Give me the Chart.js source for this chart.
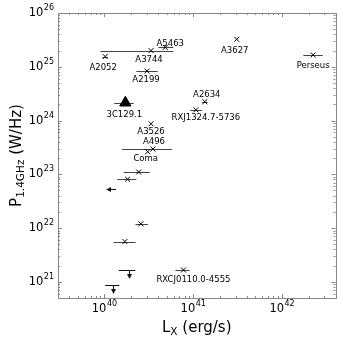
<!DOCTYPE html>
<html>
<head>
<meta charset="utf-8">
<script src="https://cdn.jsdelivr.net/npm/chart.js@4.4.0/dist/chart.umd.min.js"></script>
<style>
html,body{margin:0;padding:0;background:#fff}
#wrap{width:343px;height:343px}
</style>
</head>
<body>
<div id="wrap"><canvas id="c"></canvas></div>
<script>
// clusters drawn with x markers
var clusterNames = ['A2052','A3744','A5463','A2199','A3627','Perseus','A2634','RXJ1324.7-5736',
  'A3526','A496','Coma','','','','','RXCJ0110.0-4555'];
var clusterLx  = [1.02e40,3.35e40,4.84e40,3.02e40,3.09e41,2.24e42,1.35e41,1.07e41,
  3.35e40,3.52e40,3.07e40,2.43e40,1.82e40,2.57e40,1.70e40,7.76e40];
var clusterP   = [1.55e25,2.0e25,2.29e25,8.3e24,3.24e25,1.66e25,2.24e24,1.58e24,
  8.7e23,2.95e23,2.63e23,1.1e23,8.1e22,1.2e22,5.6e21,1.66e21];
var clusterLxLo = [0.95e40,9.0e39,4.05e40,2.29e40,null,1.74e42,1.25e41,9.25e40,
  null,1.58e40,null,1.65e40,1.39e40,2.24e40,1.26e40,6.3e40];
var clusterLxHi = [1.1e40,5.96e40,5.96e40,3.98e40,null,2.88e42,1.45e41,1.26e41,
  null,5.75e40,null,3.24e40,2.29e40,3.09e40,2.24e40,9.1e40];

// radio galaxy drawn as a triangle
var galaxyNames = ['3C129.1'];
var galaxyLx = [1.72e40];
var galaxyP = [2.14e24];
var galaxyLxLo = [1.29e40];
var galaxyLxHi = [2.14e40];

// upper limits
var limitLx = [1.35e40,1.9e40,1.24e40];
var limitP = [5.25e22,1.66e21,8.7e20];
var limitDir = ['left','down','down'];
var limitCapLo = [null,1.45e40,1.02e40];
var limitCapHi = [null,2.23e40,1.47e40];

var xTickExp = [40,41,42];
var yTickExp = [21,22,23,24,25,26];

// label offsets in pixels (dx, dy from the marker)
var clusterLabelDx = [-2,-2,5,-1,-2,0,2,10,0,1,-2,0,0,0,0,10];
var clusterLabelDy = [11,9,-4,9,11,11,-7,8,8,-7,7,0,0,0,0,10];
var galaxyLabelDx = [-1];
var galaxyLabelDy = [12];

var FONT = '"DejaVu Sans", sans-serif';

function pts(xs, ys){
  var out = [];
  for (var i = 0; i < xs.length; i++) out.push({x: xs[i], y: ys[i]});
  return out;
}

function drawSupLabel(ctx, base, exp, x, y, align){
  ctx.font = '11.5px ' + FONT;
  var wb = ctx.measureText(base).width;
  ctx.font = '8px ' + FONT;
  var we = ctx.measureText(exp).width;
  var w = wb + we + 0.5;
  var left = align === 'right' ? x - w : x - w / 2;
  ctx.textAlign = 'left';
  ctx.textBaseline = 'middle';
  ctx.font = '11.5px ' + FONT;
  ctx.fillText(base, left, y);
  ctx.font = '8px ' + FONT;
  ctx.fillText(exp, left + wb + 0.5, y - 5);
}

function arrowHead(ctx, x, y, dir){
  ctx.beginPath();
  if (dir === 'down'){
    ctx.moveTo(x, y); ctx.lineTo(x - 2.5, y - 5); ctx.lineTo(x + 2.5, y - 5);
  } else {
    ctx.moveTo(x, y); ctx.lineTo(x + 5, y - 2.5); ctx.lineTo(x + 5, y + 2.5);
  }
  ctx.closePath();
  ctx.fill();
}

var extras = {
  id: 'extras',
  beforeDatasetsDraw: function(chart){
    var ctx = chart.ctx, xs = chart.scales.x, ys = chart.scales.y;
    ctx.save();
    ctx.strokeStyle = '#444';
    ctx.lineWidth = 1;
    function bar(lo, hi, y){
      if (lo == null) return;
      var py = Math.round(ys.getPixelForValue(y)) + 0.5;
      ctx.beginPath();
      ctx.moveTo(xs.getPixelForValue(lo), py);
      ctx.lineTo(xs.getPixelForValue(hi), py);
      ctx.stroke();
    }
    for (var i = 0; i < clusterLx.length; i++) bar(clusterLxLo[i], clusterLxHi[i], clusterP[i]);
    for (var j = 0; j < galaxyLx.length; j++) bar(galaxyLxLo[j], galaxyLxHi[j], galaxyP[j]);
    ctx.restore();
  },
  afterDatasetsDraw: function(chart){
    var ctx = chart.ctx, xs = chart.scales.x, ys = chart.scales.y, a = chart.chartArea;
    ctx.save();
    // upper limits
    ctx.strokeStyle = '#111'; ctx.fillStyle = '#111'; ctx.lineWidth = 1;
    for (var k = 0; k < limitLx.length; k++){
      var px = xs.getPixelForValue(limitLx[k]), py = ys.getPixelForValue(limitP[k]);
      if (limitDir[k] === 'down'){
        ctx.beginPath();
        ctx.moveTo(xs.getPixelForValue(limitCapLo[k]), Math.round(py) + 0.5);
        ctx.lineTo(xs.getPixelForValue(limitCapHi[k]), Math.round(py) + 0.5);
        ctx.moveTo(Math.round(px) + 0.5, py);
        ctx.lineTo(Math.round(px) + 0.5, py + 5);
        ctx.stroke();
        arrowHead(ctx, Math.round(px) + 0.5, py + 9, 'down');
      } else {
        ctx.beginPath();
        ctx.moveTo(px, Math.round(py) + 0.5);
        ctx.lineTo(px - 6, Math.round(py) + 0.5);
        ctx.stroke();
        arrowHead(ctx, px - 10, Math.round(py) + 0.5, 'left');
      }
    }
    // point labels
    ctx.fillStyle = '#000';
    ctx.font = '8.5px ' + FONT;
    ctx.textAlign = 'center';
    ctx.textBaseline = 'middle';
    for (var i = 0; i < clusterNames.length; i++){
      if (!clusterNames[i]) continue;
      ctx.fillText(clusterNames[i], xs.getPixelForValue(clusterLx[i]) + clusterLabelDx[i],
        ys.getPixelForValue(clusterP[i]) + clusterLabelDy[i]);
    }
    for (var j = 0; j < galaxyNames.length; j++){
      ctx.fillText(galaxyNames[j], xs.getPixelForValue(galaxyLx[j]) + galaxyLabelDx[j],
        ys.getPixelForValue(galaxyP[j]) + galaxyLabelDy[j]);
    }
    // frame
    ctx.strokeStyle = '#888';
    ctx.lineWidth = 1;
    ctx.strokeRect(Math.round(a.left) + 0.5, Math.round(a.top) + 0.5,
      Math.round(a.right - a.left), Math.round(a.bottom - a.top));
    // ticks inside, all four sides
    ctx.beginPath();
    var e, m, v, p;
    for (e = 39; e <= 42; e++){
      for (m = 1; m <= 9; m++){
        v = m * Math.pow(10, e);
        if (v < xs.min || v > xs.max) continue;
        p = Math.round(xs.getPixelForValue(v)) + 0.5;
        var lx = m === 1 ? 4 : 2;
        ctx.moveTo(p, a.bottom); ctx.lineTo(p, a.bottom - lx);
        ctx.moveTo(p, a.top); ctx.lineTo(p, a.top + lx);
      }
    }
    for (e = 20; e <= 26; e++){
      for (m = 1; m <= 9; m++){
        v = m * Math.pow(10, e);
        if (v < ys.min || v > ys.max) continue;
        p = Math.round(ys.getPixelForValue(v)) + 0.5;
        var ly = m === 1 ? 4 : 2;
        ctx.moveTo(a.left, p); ctx.lineTo(a.left + ly, p);
        ctx.moveTo(a.right, p); ctx.lineTo(a.right - ly, p);
      }
    }
    ctx.stroke();
    // tick labels
    ctx.fillStyle = '#000';
    xTickExp.forEach(function(ex){
      drawSupLabel(ctx, '10', String(ex), xs.getPixelForValue(Math.pow(10, ex)), a.bottom + 11, 'center');
    });
    yTickExp.forEach(function(ex){
      drawSupLabel(ctx, '10', String(ex), a.left - 4, ys.getPixelForValue(Math.pow(10, ex)), 'right');
    });
    // x title: L_X (erg/s)
    ctx.textBaseline = 'alphabetic';
    ctx.textAlign = 'left';
    ctx.font = '15px ' + FONT;
    var w1 = ctx.measureText('L').width, w3 = ctx.measureText(' (erg/s)').width;
    ctx.font = '10.5px ' + FONT;
    var w2 = ctx.measureText('X').width;
    var cx = (a.left + a.right) / 2, tx = cx - (w1 + w2 + w3) / 2, ty = a.bottom + 34;
    ctx.font = '15px ' + FONT; ctx.fillText('L', tx, ty);
    ctx.font = '10.5px ' + FONT; ctx.fillText('X', tx + w1, ty + 3);
    ctx.font = '15px ' + FONT; ctx.fillText(' (erg/s)', tx + w1 + w2, ty);
    // y title: P_1.4GHz (W/Hz)
    ctx.save();
    ctx.translate(21, (a.top + a.bottom) / 2);
    ctx.rotate(-Math.PI / 2);
    ctx.font = '15px ' + FONT;
    var v1 = ctx.measureText('P').width, v3 = ctx.measureText(' (W/Hz)').width;
    ctx.font = '10.5px ' + FONT;
    var v2 = ctx.measureText('1.4GHz').width;
    var sx = -(v1 + v2 + v3) / 2;
    ctx.font = '15px ' + FONT; ctx.fillText('P', sx, 0);
    ctx.font = '10.5px ' + FONT; ctx.fillText('1.4GHz', sx + v1, 3);
    ctx.font = '15px ' + FONT; ctx.fillText(' (W/Hz)', sx + v1 + v2, 0);
    ctx.restore();
    ctx.restore();
  }
};

new Chart(document.getElementById('c'), {
  type: 'scatter',
  data: {
    datasets: [{
      data: pts(clusterLx, clusterP),
      pointStyle: 'crossRot',
      pointRadius: 3.5,
      borderColor: '#000',
      borderWidth: 1
    }, {
      data: pts(galaxyLx, galaxyP),
      pointStyle: 'triangle',
      pointRadius: 6.5,
      backgroundColor: '#000',
      borderColor: '#000',
      borderWidth: 1
    }]
  },
  options: {
    responsive: true,
    maintainAspectRatio: false,
    animation: false,
    layout: {padding: {left: 58, top: 13, right: 7, bottom: 45}},
    plugins: {legend: {display: false}, tooltip: {enabled: false}},
    scales: {
      x: {
        type: 'logarithmic', min: 3e39, max: 4e42,
        ticks: {display: false}, grid: {display: false, drawTicks: false},
        border: {display: false}
      },
      y: {
        type: 'logarithmic', min: 5e20, max: 1e26,
        ticks: {display: false}, grid: {display: false, drawTicks: false},
        border: {display: false}
      }
    }
  },
  plugins: [extras]
});
</script>
</body>
</html>
